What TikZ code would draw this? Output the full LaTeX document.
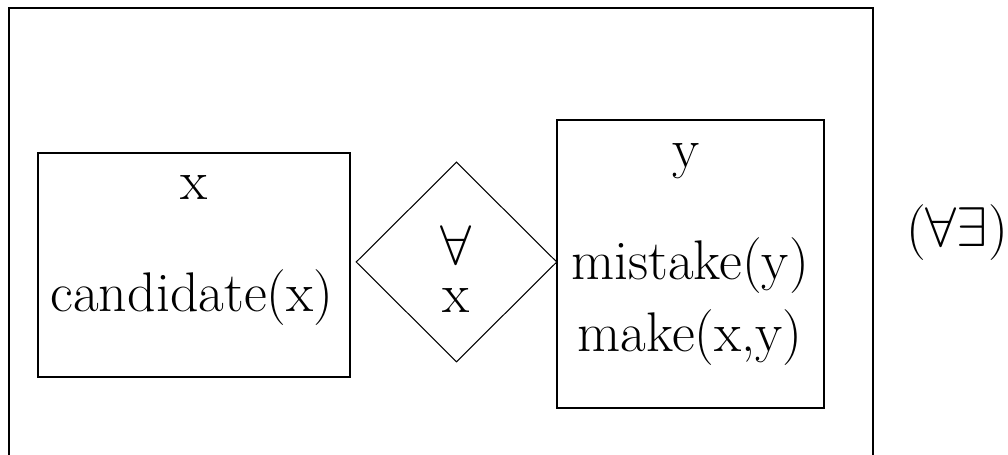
\RequirePackage{fix-cm}
\documentclass[tikz,border=0pt]{standalone}
\usepackage{amssymb}
\usetikzlibrary{shapes.geometric}

\begin{document}
\begin{tikzpicture}[x=0.02cm,y=-0.02cm,
    box/.style={draw,line width=1.1pt,inner sep=0pt},
    quant/.style={draw,diamond,line width=0.6pt,inner sep=0pt},
    lbl/.style={anchor=base,inner sep=0pt,font=\fontsize{31.8}{38}\selectfont}]
        \useasboundingbox (0,0) rectangle (1008,455);
        % outer frame, bottom edge is off the page
        \draw[line width=1.1pt] (9,456) |- (873,8) -- (873,456);
        \node[box,minimum width=6.24cm,minimum height=4.48cm] (B0) at (194,265) {};
        \node[quant,minimum width=4.02cm,minimum height=4cm] (D0) at (456.5,262) {};
        \node[box,minimum width=5.34cm,minimum height=5.76cm] (B1) at (690.5,264) {};
        \node[lbl] (T0) at (194,200) {x};
        \node[lbl] (T1) at (192,312) {candidate(x)};
        \node[lbl] (T2) at (456,265) {$\forall$};
        \node[lbl] (T3) at (456,313) {x};
        \node[lbl] (T4) at (686,168) {y};
        \node[lbl] (T5) at (690,280) {mistake(y)};
        \node[lbl] (T6) at (690,352) {make(x,y)};
        \node[lbl] (T7) at (957,247) {($\forall\exists$)};
      \end{tikzpicture}
\end{document}
